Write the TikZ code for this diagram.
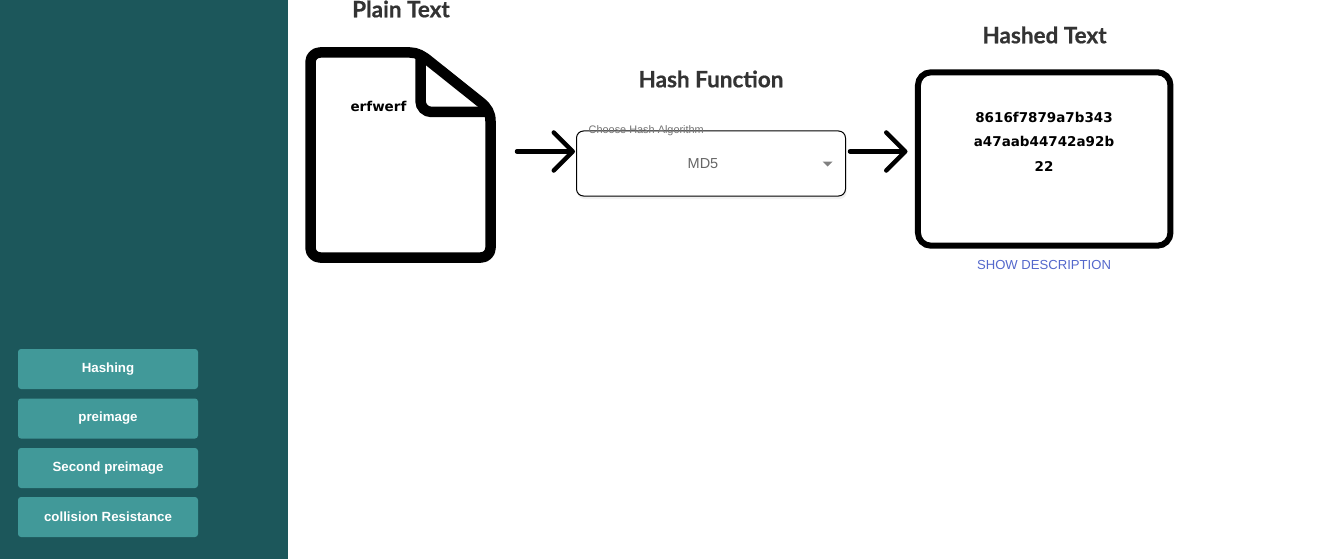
\documentclass[tikz,border=0pt]{standalone}
\usepackage{fontspec}
\setmainfont{Liberation Sans}
\newfontfamily\headfont[BoldFeatures={FakeBold=0.6}]{Lato}
\newfontfamily\codefont{DejaVu Sans}
\usetikzlibrary{arrows.meta}
\definecolor{sidebar}{HTML}{1C575B}
\definecolor{btn}{HTML}{419999}
\definecolor{headc}{HTML}{333333}
\definecolor{linkc}{HTML}{5468CC}
\tikzset{
  x=1pt,y=-1pt,
  navbtn/.style={fill=btn,rounded corners=3pt,minimum width=180pt,minimum height=40pt,inner sep=0pt,text=white,font=\fontsize{13.3}{16}\selectfont\bfseries},
  heading/.style={text=headc,inner sep=0pt,anchor=center,font=\headfont\fontsize{22.5}{26}\selectfont\bfseries},
  codetext/.style={inner sep=0pt,align=center,font=\codefont\fontsize{13.5}{24.5}\selectfont\bfseries},
  flowarrow/.style={line width=4.5pt,line cap=round,-{Straight Barb[length=19pt,width=38pt,line cap=round,round]}},
  outline/.style={line width=10.5pt,line join=round},
}
\begin{document}
\begin{tikzpicture}
\useasboundingbox (0,0) rectangle (1325,559);
\fill[white] (0,0) rectangle (1325,559);
\fill[sidebar] (0,0) rectangle (288,559);
\node[navbtn] (n1) at (108,369) {\raisebox{-.5pt}{Hashing}};
\node[navbtn] (n2) at (108,418.5) {\raisebox{-.5pt}{preimage}};
\node[navbtn] (n3) at (108,468) {\raisebox{-.5pt}{Second preimage}};
\node[navbtn] (n4) at (108,517) {\raisebox{-.5pt}{collision Resistance}};
% headings
\node[heading] (h1) at (401,9) {Plain Text};
\node[heading] (h2) at (711,79) {Hash Function};
\node[heading] (h3) at (1044.5,35) {Hashed Text};
% document icon
\draw[outline] (321,52.5) -- (410,52.5) .. controls (417,52.5) and (423,56) .. (429,61)
  -- (481,102.5) .. controls (487,107.5) and (490.5,113) .. (490.5,121)
  -- (490.5,248) arc[start angle=0,end angle=90,radius=9.5]
  -- (320,257.5) arc[start angle=90,end angle=180,radius=9.5]
  -- (310.5,62) arc[start angle=180,end angle=270,radius=9.5] -- cycle;
\draw[line width=10.5pt,line cap=butt] (420.5,53) -- (420.5,101) arc[start angle=180,end angle=90,radius=11] -- (488,112);
\node[codetext,font=\codefont\fontsize{13.5}{18}\selectfont\bfseries] (plain) at (378.5,106.5) {erfwerf};
% select
\fill[black!6,rounded corners=7pt] (577.5,134) rectangle (846.5,199);
\node[draw=black,line width=1pt,fill=white,rounded corners=7pt,minimum width=269pt,minimum height=65pt,inner sep=0pt] (sel) at (711,163.5) {};
\node[inner sep=0pt,text=black!60,font=\fontsize{14.5}{16}\selectfont] (md) at (703,163.5) {MD5};
\node[inner sep=0pt,anchor=west,text=black!55,font=\fontsize{10.9}{12}\selectfont] (lab) at (588.5,130.5) {Choose Hash Algorithm};
\fill[black!50] (822.5,161.5) -- (832.5,161.5) -- (827.5,166.5) -- cycle;
% hashed box
\node[draw=black,line width=6pt,rounded corners=13pt,minimum width=252.5pt,minimum height=173.4pt,inner sep=0pt] (hb) at (1044.2,159) {};
\node[codetext] (code) at (1044,141.5) {8616f7879a7b343\\a47aab44742a92b\\22};
\node[inner sep=0pt,text=linkc,font=\fontsize{13.1}{16}\selectfont] (desc) at (1044,264.5) {SHOW DESCRIPTION};
% arrows
\coordinate (a1) at (517,151.5);
\coordinate (b1) at (575,151.5);
\coordinate (a2) at (850,151.5);
\coordinate (b2) at (907.5,151.5);
\draw[flowarrow] (a1) -- (b1);
\draw[flowarrow] (a2) -- (b2);
\end{tikzpicture}
\end{document}
